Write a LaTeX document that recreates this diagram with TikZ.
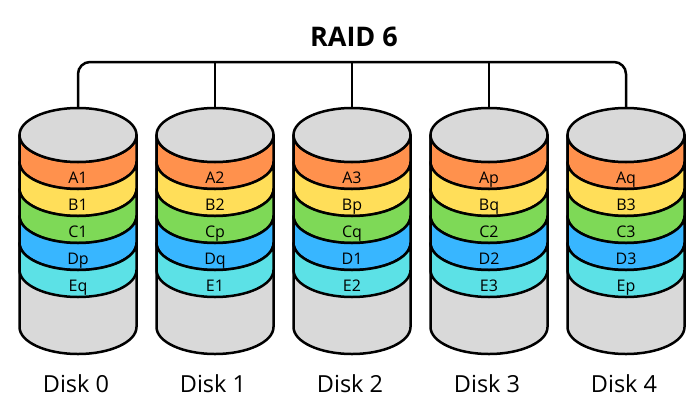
\documentclass[tikz,border=0pt]{standalone}
\usepackage{fontspec}
\setmainfont{Open Sans}

\definecolor{diskgray}{HTML}{D9D9D9}
\definecolor{stripA}{HTML}{FF914D}
\definecolor{stripB}{HTML}{FFDE59}
\definecolor{stripC}{HTML}{7ED957}
\definecolor{stripD}{HTML}{38B6FF}
\definecolor{stripE}{HTML}{5CE1E6}

\tikzset{
  outline/.style={draw=black, line width=2.5pt, line join=round},
  wire/.style={draw=black, line width=2.5pt, rounded corners=12pt},
  striplabel/.style={anchor=base, font=\fontsize{16}{16}\selectfont, inner sep=0pt},
  disklabel/.style={anchor=base, font=\fontsize{23.5}{23.5}\selectfont, inner sep=0pt},
}

\begin{document}
\begin{tikzpicture}[x=1pt,y=1pt]
  \useasboundingbox (0,0) rectangle (700,400);

  \node[anchor=base, inner sep=0pt, font=\bfseries\fontsize{27}{27}\selectfont] (title) at (354,354) {RAID 6};

  \coordinate (bus) at (352,338);

  % the five disks
  \foreach \i/\cx/\la/\lb/\lc/\ld/\le in {0/78/A1/B1/C1/Dp/Eq, 1/215/A2/B2/Cp/Dq/E1,
      2/352/A3/Bp/Cq/D1/E2, 3/489/Ap/Bq/C2/D2/E3, 4/626/Aq/B3/C3/D3/Ep} {
    \path[outline, fill=diskgray] (\cx-58.5,265) -- (\cx-58.5,73)
      arc[start angle=180, end angle=360, x radius=58.5, y radius=27]
      -- (\cx+58.5,265) -- cycle;
    \foreach \k/\lab/\col in {0/\la/stripA, 1/\lb/stripB, 2/\lc/stripC, 3/\ld/stripD, 4/\le/stripE} {
      \path[outline, fill=\col] (\cx-58.5,265-27*\k) -- (\cx-58.5,238-27*\k)
        arc[start angle=180, end angle=360, x radius=58.5, y radius=27]
        -- (\cx+58.5,265-27*\k)
        arc[start angle=0, end angle=-180, x radius=58.5, y radius=27] -- cycle;
      \node[striplabel] (s\i\k) at (\cx,217-27*\k) {\lab};
    }
    \path[outline, fill=diskgray] (\cx,265) ellipse[x radius=58.5, y radius=27];
    \coordinate (top\i) at (\cx,292);
    \node[disklabel] (disk\i) at (\cx-2,8) {Disk \i};
  }

  % controller bus
  \draw[wire] (top0) |- (bus) -| (top4);
  \draw[wire] (top1) -- (top1 |- bus);
  \draw[wire] (top2) -- (bus);
  \draw[wire] (top3) -- (top3 |- bus);

\end{tikzpicture}
\end{document}
